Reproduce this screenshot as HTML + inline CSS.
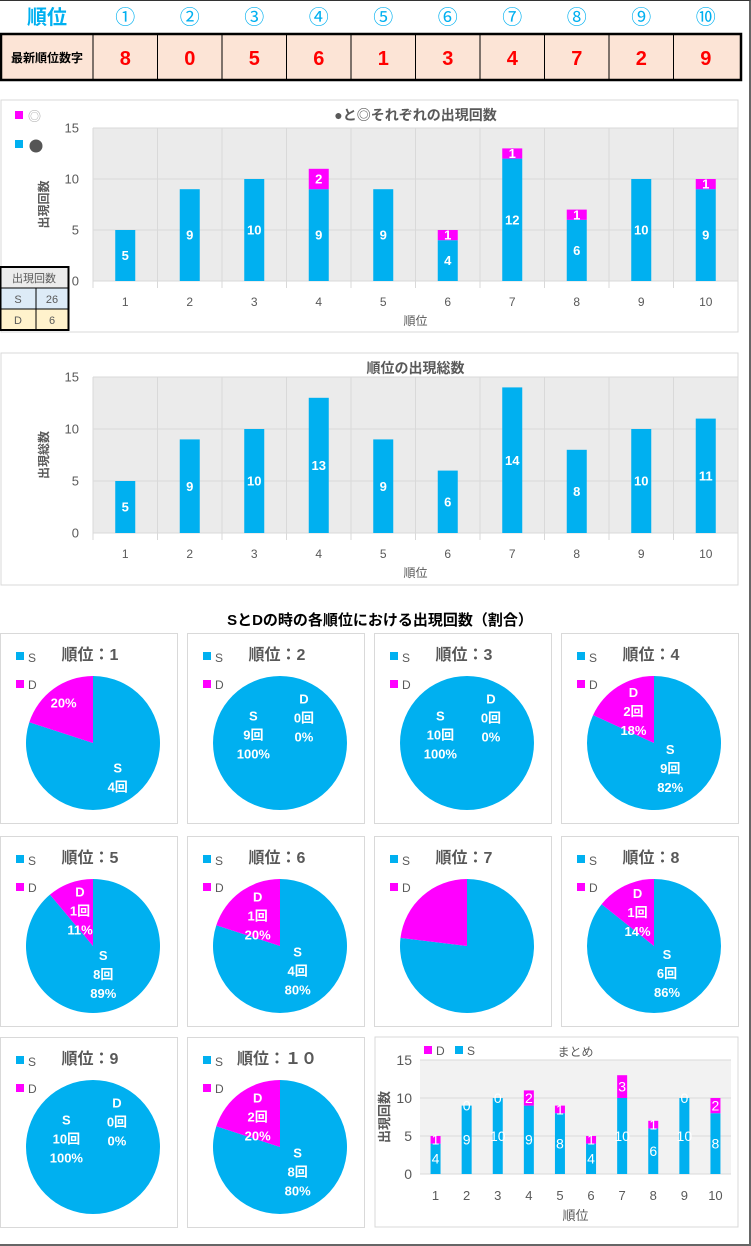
<!DOCTYPE html>
<html><head><meta charset="utf-8">
<style>
*{margin:0;padding:0;box-sizing:border-box}
body{width:751px;height:1246px;background:#fff;position:relative;overflow:hidden;font-family:"Liberation Sans","Noto Sans CJK JP",sans-serif}
#frame{position:absolute;left:0;top:0;width:751px;height:1246px;border-right:2px solid #666;border-bottom:2px solid #666;border-top:1px solid #333}
</style></head>
<body>
<div id="frame"></div>
<svg id="svg" width="751" height="1246" style="position:absolute;left:0;top:0"></svg>
<script>
const ranks=["1","2","3","4","5","6","7","8","9","10"];
const circled=["①","②","③","④","⑤","⑥","⑦","⑧","⑨","⑩"];
const latest=["8","0","5","6","1","3","4","7","2","9"];
const dotVals=[5,9,10,9,9,4,12,6,10,9];
const ringVals=[0,0,0,2,0,1,1,1,0,1];
const totalVals=[5,9,10,13,9,6,14,8,10,11];
const sVals=[4,9,10,9,8,4,10,6,10,8];
const dVals=[1,0,0,2,1,1,3,1,0,2];
const yTicks=[0,5,10,15];
const summary=[["S","26"],["D","6"]];

const NS="http://www.w3.org/2000/svg";
const svg=document.getElementById('svg');
const F='"Liberation Sans","Noto Sans CJK JP",sans-serif';
function el(tag,attrs,parent,text){const e=document.createElementNS(NS,tag);for(const k in attrs)e.setAttribute(k,attrs[k]);if(text!==undefined)e.textContent=text;(parent||svg).appendChild(e);return e;}
const BLUE="#00b0f0",MAG="#ff00ff";

// ---- top table
let t=el('text',{x:47,y:24,'font-size':20,'font-weight':'bold',fill:BLUE,'text-anchor':'middle','font-family':F},svg,"順位");

el('rect',{x:1,y:34,width:740,height:46,fill:"#fce4d6",stroke:"#000","stroke-width":2.5});
let cx0=93,cw=64.5;
ranks.forEach((r,i)=>{
  const x=cx0+cw*i+cw/2;
  const c=el('text',{x:x,y:24,'font-size':20,fill:BLUE,'text-anchor':'middle','font-family':F},svg,circled[i]);
  
  el('line',{x1:cx0+cw*i,y1:34,x2:cx0+cw*i,y2:80,stroke:"#000","stroke-width":1});
  const n=el('text',{x:x,y:65,'font-size':20,'font-weight':'bold',fill:"#ff0000",'text-anchor':'middle','font-family':F},svg,latest[i]);
  
});
el('text',{x:47,y:62,'font-size':12,'font-weight':'bold',fill:"#000",'text-anchor':'middle','font-family':F},svg,"最新順位数字");

// ---- bar chart helper
function barChart(o){
  const g=el('g',{});
  el('rect',{x:o.bx,y:o.by,width:o.bw,height:o.bh,fill:"#fff",stroke:"#d9d9d9"},g);
  el('rect',{x:o.px,y:o.py,width:o.pw,height:o.ph,fill:o.bg},g);
  const ys=v=>o.py+o.ph-v/15*o.ph;
  const step=o.pw/ranks.length;
  const xs=i=>o.px+step*i+step/2;
  yTicks.forEach(v=>{
    el('line',{x1:o.px,x2:o.px+o.pw,y1:ys(v),y2:ys(v),stroke:"#d9d9d9"},g);
    el('text',{x:o.px-o.tickOff,y:ys(v)+o.fs*0.35,'font-size':o.fs,fill:"#595959",'text-anchor':'end','font-family':F},g,String(v));
  });
  if(o.vgrid)for(let i=0;i<=ranks.length;i++){el('line',{x1:o.px+step*i,x2:o.px+step*i,y1:o.py,y2:o.py+o.ph+7,stroke:"#d9d9d9"},g);}
  ranks.forEach((r,i)=>{
    el('text',{x:xs(i),y:o.py+o.ph+o.xlOff,'font-size':o.fs-1,fill:"#595959",'text-anchor':'middle','font-family':F},g,r);
    let base=0;
    o.series.forEach(s=>{
      const v=s.vals[i];
      if(v>0){
        const b=el('rect',{x:xs(i)-o.barW/2,y:ys(base+v),width:o.barW,height:ys(base)-ys(base+v),fill:s.color},g);
        
      }
      if(v>0||s.showZero){
        const ly=v>0?(ys(base)+ys(base+v))/2+o.lfs*0.35:ys(base)+o.lfs*0.35;
        el('text',{x:xs(i),y:ly,'font-size':o.lfs,'font-weight':o.lbw,fill:"#fff",'text-anchor':'middle','font-family':F},g,String(v));
      }
      base+=v;
    });
  });
  el('text',{x:(o.px+o.pw/2),y:o.titleY,'font-size':o.tfs,'font-weight':o.tbw,fill:"#595959",'text-anchor':'middle','font-family':F},g,o.title);
  el('text',{x:o.px+o.pw/2,y:o.xtY,'font-size':o.fs-1,fill:"#595959",'text-anchor':'middle','font-family':F},g,"順位");
  const yt=el('text',{x:0,y:0,'font-size':o.fs-1,'font-weight':'bold',fill:"#595959",'text-anchor':'middle','font-family':F,transform:`translate(${o.ytX},${o.py+o.ph/2}) rotate(-90)`},g,o.ytitle);
  return g;
}
barChart({name:'chart-dot-ring-counts',bx:1,by:100,bw:737,bh:232,px:93,py:128,pw:645,ph:153,bg:"#ebebeb",vgrid:true,barW:20,fs:13,lfs:13,lbw:'bold',tickOff:14,xlOff:25,
  series:[{key:'dot',vals:dotVals,color:BLUE},{key:'ring',vals:ringVals,color:MAG}],
  title:"●と◎それぞれの出現回数",titleY:120,tfs:14,tbw:'bold',xtY:325,ytitle:"出現回数",ytX:48});
// legend chart1
el('rect',{x:15,y:111,width:8,height:8,fill:MAG});
el('text',{x:28,y:121,'font-size':13,fill:"#a6a6a6",'font-family':F},svg,"◎");
el('rect',{x:15,y:140,width:8,height:8,fill:BLUE});
el('circle',{cx:36,cy:146,r:6.5,fill:"#555"});
// summary mini table
const tg=el('g',{});
el('rect',{x:0,y:267,width:68,height:21,fill:"#ececec"},tg);
el('text',{x:34,y:282,'font-size':11,fill:"#595959",'text-anchor':'middle','font-family':F},tg,"出現回数");
summary.forEach((r,i)=>{
  const y=288+i*21;
  el('rect',{x:0,y:y,width:68,height:21,fill:i==0?"#ddebf7":"#fff2cc"},tg);
  el('line',{x1:0,x2:68,y1:y,y2:y,stroke:"#000"},tg);
  el('line',{x1:36,x2:36,y1:y,y2:y+21,stroke:"#000"},tg);
  el('text',{x:18,y:y+15,'font-size':11,fill:"#595959",'text-anchor':'middle','font-family':F},tg,r[0]);
  el('text',{x:52,y:y+15,'font-size':11,fill:"#595959",'text-anchor':'middle','font-family':F},tg,r[1]);
});
el('rect',{x:0.5,y:267,width:68,height:63,fill:"none",stroke:"#000","stroke-width":2},tg);

barChart({name:'chart-rank-totals',bx:1,by:353,bw:737,bh:232,px:93,py:377,pw:645,ph:156,bg:"#ebebeb",vgrid:true,barW:20,fs:13,lfs:13,lbw:'bold',tickOff:14,xlOff:25,
  series:[{key:'total',vals:totalVals,color:BLUE}],
  title:"順位の出現総数",titleY:373,tfs:14,tbw:'bold',xtY:577,ytitle:"出現総数",ytX:48});

// section title
el('text',{x:380,y:625,'font-size':15,'font-weight':'bold',fill:"#000",'text-anchor':'middle','font-family':F},svg,"SとDの時の各順位における出現回数（割合）");

// pies
const colX=[0,187,374,561],rowY=[633,836,1037];
const zen=["１","２","３","４","５","６","７","８","９","１０"];
ranks.forEach((r,i)=>{
  const px=colX[i%4],py=rowY[Math.floor(i/4)];
  const g=el('g',{});
  el('rect',{x:px+0.5,y:py+0.5,width:177,height:190,fill:"#fff",stroke:"#d9d9d9"},g);
  el('text',{x:px+90,y:py+27,'font-size':16,'font-weight':'bold',fill:"#595959",'text-anchor':'middle','font-family':F},g,"順位："+(i==9?"１０":r));
  el('rect',{x:px+16,y:py+19,width:8,height:8,fill:BLUE},g);
  el('text',{x:px+28,y:py+29,'font-size':12,fill:"#595959",'font-family':F},g,"S");
  el('rect',{x:px+16,y:py+47,width:8,height:8,fill:MAG},g);
  el('text',{x:px+28,y:py+56,'font-size':12,fill:"#595959",'font-family':F},g,"D");
  const cx=px+93,cy=py+110,R=67;
  const tot=sVals[i]+dVals[i];
  const fs=sVals[i]/tot;
  const pt=f=>[cx+R*Math.sin(f*2*Math.PI),cy-R*Math.cos(f*2*Math.PI)];
  if(dVals[i]==0){
    const c=el('circle',{cx:cx,cy:cy,r:R,fill:BLUE},g);
  }else{
    const p=pt(fs);
    const s=el('path',{d:`M${cx},${cy}L${cx},${cy-R}A${R},${R} 0 ${fs>0.5?1:0} 1 ${p[0]},${p[1]}Z`,fill:BLUE},g);
    
    const d=el('path',{d:`M${cx},${cy}L${p[0]},${p[1]}A${R},${R} 0 ${fs<0.5?1:0} 1 ${cx},${cy-R}Z`,fill:MAG},g);
    
  }
  // labels
  const sp=Math.round(fs*100),dp=100-sp;
  const lab=(f,lines,rr)=>{const a=f*2*Math.PI;const x=cx+rr*Math.sin(a),y=cy-rr*Math.cos(a);
    lines.forEach((l,k)=>el('text',{x:x,y:y+(k-(lines.length-1)/2)*19+5,'font-size':13,'font-weight':'bold',fill:"#fff",'text-anchor':'middle','font-family':F},g,l));};
  if(i==0){lab(fs/2,["S",sVals[i]+"回"],42);lab(fs+(1-fs)/2,[dp+"%"],50);}
  else if(i==6){}
  else{lab(dVals[i]==0?0.3:fs/2,["S",sVals[i]+"回",sp+"%"],dVals[i]==0?-28:30);lab(dVals[i]==0?0.12:fs+(1-fs)/2,["D",dVals[i]+"回",dp+"%"],dVals[i]==0?35:38);}
});

// summary chart
barChart({name:'chart-summary',bx:375,by:1037,bw:363,bh:190,px:420,py:1060,pw:311,ph:114,bg:"#f2f2f2",vgrid:false,barW:10,fs:14,lfs:14,lbw:'normal',tickOff:8,xlOff:26,
  series:[{key:'s',vals:sVals,color:BLUE,showZero:false},{key:'d',vals:dVals,color:MAG,showZero:true}],
  title:"まとめ",titleY:1056,tfs:12,tbw:'normal',xtY:1220,ytitle:"出現回数",ytX:389});
el('rect',{x:424,y:1046,width:8,height:8,fill:MAG});
el('text',{x:436,y:1055,'font-size':12,fill:"#595959",'font-family':F},svg,"D");
el('rect',{x:455,y:1046,width:8,height:8,fill:BLUE});
el('text',{x:467,y:1055,'font-size':12,fill:"#595959",'font-family':F},svg,"S");
</script>
</body></html>
